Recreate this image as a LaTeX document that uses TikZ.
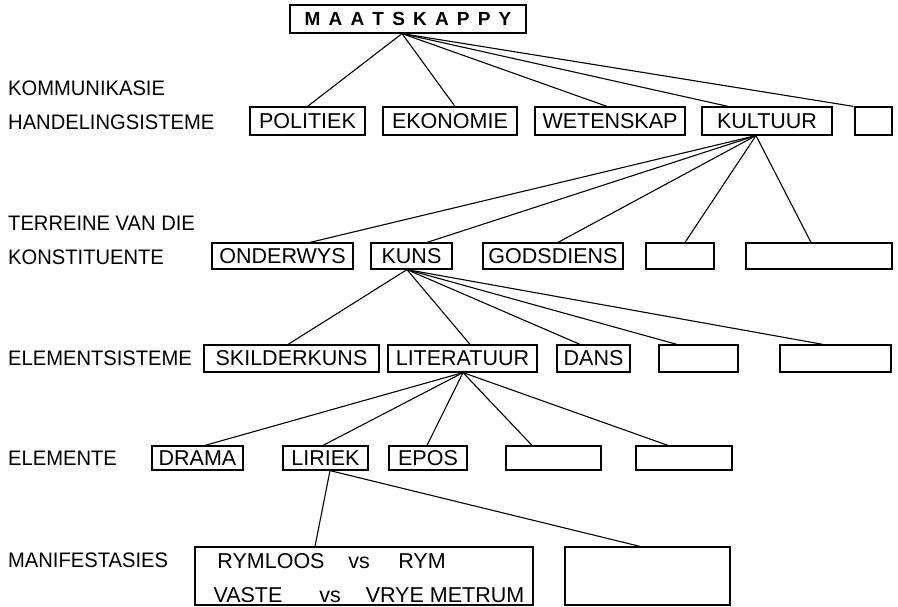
\documentclass[tikz,border=0pt]{standalone}
\usepackage{fontspec}
\setmainfont{Liberation Sans}
\newfontfamily\lblfont{Liberation Sans}[FakeStretch=0.96]
\begin{document}
\begin{tikzpicture}[x=1pt,y=-1pt,
  every node/.style={font=\fontsize{21.5}{24}\selectfont, inner sep=0pt},
  bx/.style n args={2}{draw, line width=1.2pt, minimum width=#1pt, minimum height=#2pt},
  lbl/.style={anchor=west, font=\lblfont\fontsize{21}{24}\selectfont},
  wd/.style={anchor=base},
  link/.style={line width=1.1pt}]
\useasboundingbox (0,0) rectangle (898,607);

% root
\node[bx={236}{28}] (m) at (408,19) {\fontsize{19}{20}\selectfont\bfseries M\hspace{8.2pt}A\hspace{8.2pt}A\hspace{8.2pt}T\hspace{8.2pt}S\hspace{8.2pt}K\hspace{8.2pt}A\hspace{8.2pt}P\hspace{8.2pt}P\hspace{8.2pt}Y};

% left labels
\node[lbl] (l1a) at (8,88) {KOMMUNIKASIE};
\node[lbl] (l1b) at (8,122) {HANDELINGSISTEME};
\node[lbl] (l2a) at (8,223) {TERREINE VAN DIE};
\node[lbl] (l2b) at (8,257) {KONSTITUENTE};
\node[lbl] (l3) at (8,358) {ELEMENTSISTEME};
\node[lbl] (l4) at (8,458) {ELEMENTE};
\node[lbl] (l5) at (8,560) {MANIFESTASIES};

% level 1
\node[bx={115}{28}] (pol) at (307.5,121) {POLITIEK};
\node[bx={134}{28}] (eko) at (450,121) {EKONOMIE};
\node[bx={150}{28}] (wet) at (610,121) {WETENSKAP};
\node[bx={130}{28}] (kul) at (767,121) {KULTUUR\hspace{10pt}};
\node[bx={37}{28}] (e1) at (873.5,121) {};

% level 2
\node[bx={141}{26}] (ond) at (282.5,256) {ONDERWYS};
\node[bx={81}{26}] (kuns) at (411.5,256) {KUNS};
\node[bx={140}{26}] (god) at (553,256) {GODSDIENS};
\node[bx={68}{26}] (e2a) at (680,256) {};
\node[bx={146}{26}] (e2b) at (819,256) {};

% level 3
\node[bx={175}{27}] (ski) at (291.5,358.5) {SKILDERKUNS};
\node[bx={149}{27}] (lit) at (462.5,358.5) {LITERATUUR};
\node[bx={73}{27}] (dans) at (593.5,358.5) {DANS};
\node[bx={79}{27}] (e3a) at (698.5,358.5) {};
\node[bx={111}{27}] (e3b) at (835.5,358.5) {};

% level 4
\node[bx={91}{24}] (drama) at (197.5,458) {DRAMA};
\node[bx={85}{24}] (lir) at (325.5,458) {LIRIEK};
\node[bx={78}{24}] (epos) at (428,458) {EPOS};
\node[bx={95}{24}] (e4a) at (553.5,458) {};
\node[bx={96}{24}] (e4b) at (684,458) {};

% level 5
\node[bx={338}{58}] (man) at (364,576) {};
\node[bx={165}{58}] (e5) at (647.5,576) {};
\node[wd] (t1) at (271,568.5) {RYMLOOS};
\node[wd] (t2) at (359,568.5) {vs};
\node[wd] (t3) at (422,568.5) {RYM};
\node[wd] (t4) at (248,602.5) {VASTE};
\node[wd] (t5) at (330,602.5) {vs};
\node[wd] (t6) at (445,602.5) {VRYE METRUM};

% connectors
\coordinate (mf) at ([xshift=-6pt]m.south);
\foreach \n/\s in {pol/0,eko/5,wet/-3,kul/-39,e1/-20}
  \draw[link] (mf) -- ([xshift=\s pt]\n.north);

\coordinate (kf) at ([xshift=-11pt]kul.south);
\foreach \n/\s in {ond/27.5,kuns/15.5,god/5,e2a/5,e2b/-8}
  \draw[link] (kf) -- ([xshift=\s pt]\n.north);

\coordinate (kuf) at ([xshift=-4.5pt]kuns.south);
\foreach \n/\s in {ski/-3.5,lit/7.5,dans/-13.5,e3a/-21.5,e3b/-12.5}
  \draw[link] (kuf) -- ([xshift=\s pt]\n.north);

\coordinate (lf) at ([xshift=0.5pt]lit.south);
\foreach \n/\s in {drama/7.5,lir/-2.5,epos/-1,e4a/-21.5,e4b/-16}
  \draw[link] (lf) -- ([xshift=\s pt]\n.north);

\coordinate (lif) at ([xshift=4.5pt]lir.south);
\foreach \n/\s in {man/-49,e5/-7.5}
  \draw[link] (lif) -- ([xshift=\s pt]\n.north);
\end{tikzpicture}
\end{document}
